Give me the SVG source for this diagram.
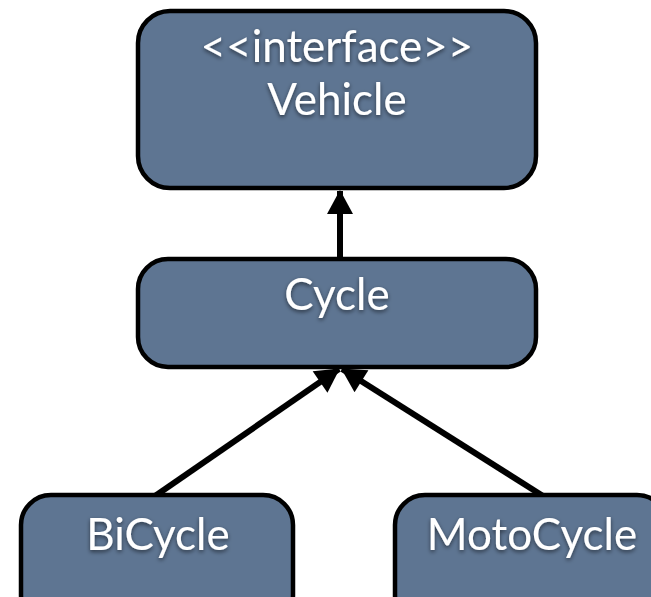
<svg xmlns="http://www.w3.org/2000/svg" width="651" height="597" viewBox="0 0 651 597">
  <defs>
    <filter id="textShadow" x="-20%" y="-40%" width="140%" height="180%">
      <feDropShadow dx="0" dy="2" stdDeviation="2" flood-color="#000000" flood-opacity="0.55"/>
    </filter>
    <marker id="arrowHead" markerUnits="userSpaceOnUse" markerWidth="26" markerHeight="26" viewBox="0 0 24 26" refX="23" refY="13" orient="auto">
      <path d="M0,0 L24,13 L0,26 Z" fill="#000000"/>
    </marker>
  </defs>
  <style>
    .box { fill: #5e7592; stroke: #000000; stroke-width: 4.5; }
    .label { font-family: Lato, "Open Sans", "Liberation Sans", sans-serif; font-size: 44px; fill: #ffffff; text-anchor: middle; filter: url(#textShadow); }
    .edge { stroke: #000000; stroke-width: 6; fill: none; marker-end: url(#arrowHead); }
  </style>
  <rect width="651" height="597" fill="#ffffff"/>

  <g id="connectors">
    <line class="edge" x1="340" y1="258" x2="340" y2="191"/>
    <line class="edge" x1="155" y1="496" x2="339" y2="369"/>
    <line class="edge" x1="543" y1="496" x2="342" y2="369"/>
  </g>

  <g id="vehicle">
    <rect class="box" x="138" y="11" width="398" height="177" rx="32" ry="32"/>
    <text class="label" x="337" y="62">&lt;&lt;interface&gt;&gt;</text>
    <text class="label" x="337" y="115">Vehicle</text>
  </g>

  <g id="cycle">
    <rect class="box" x="138" y="259" width="398" height="108" rx="30" ry="30"/>
    <text class="label" x="337" y="310">Cycle</text>
  </g>

  <g id="bicycle">
    <rect class="box" x="21" y="495" width="272" height="130" rx="30" ry="30"/>
    <text class="label" x="158" y="550">BiCycle</text>
  </g>

  <g id="motocycle">
    <rect class="box" x="395" y="495" width="272" height="130" rx="30" ry="30"/>
    <text class="label" x="532" y="550">MotoCycle</text>
  </g>
</svg>
